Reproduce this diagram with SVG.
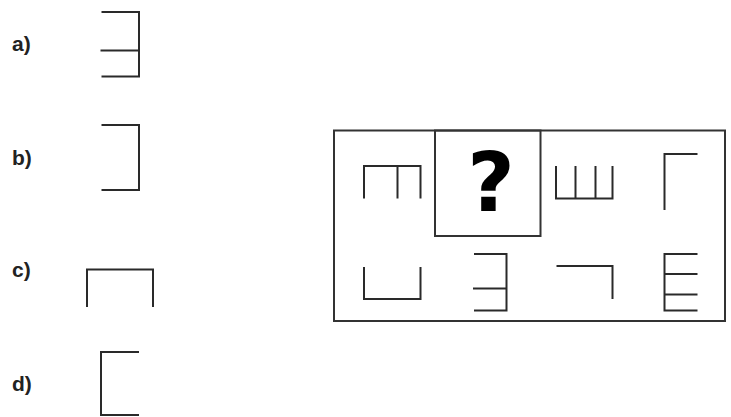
<svg xmlns="http://www.w3.org/2000/svg" width="731" height="417" viewBox="0 0 731 417">
<style>
.lbl{font-family:"Liberation Sans",Arial,sans-serif;font-weight:bold;font-size:21px;fill:#222}
.shp{fill:none;stroke:#2a2a2a;stroke-width:2;stroke-linecap:butt;stroke-linejoin:miter}
.box{fill:none;stroke:#333;stroke-width:2}
.q{font-family:"DejaVu Sans",sans-serif;font-weight:bold;font-size:82px;fill:#000}
</style>
<rect width="731" height="417" fill="#fff"/>
<g id="option-a">
<text class="lbl" x="12" y="51">a)</text>
<path class="shp" d="M101.5 12H139V76.5H101.5M100.5 50.5H139"/>
</g>
<g id="option-b">
<text class="lbl" x="12" y="165">b)</text>
<path class="shp" d="M101.5 125H139V190H101.5"/>
</g>
<g id="option-c">
<text class="lbl" x="12" y="277">c)</text>
<path class="shp" d="M87 307V269.5H153V307"/>
</g>
<g id="option-d">
<text class="lbl" x="12" y="391">d)</text>
<path class="shp" d="M139 352H101V415H139"/>
</g>
<g id="puzzle-frame">
<rect class="box" x="334" y="130.5" width="391" height="190.5"/>
</g>
<g id="cell-question">
<rect class="box" x="435" y="130.5" width="105.5" height="105.5"/>
<text class="q" x="491" y="211" text-anchor="middle">?</text>
</g>
<g id="cell-1">
<path class="shp" d="M364 198.5V166H420.5V198.5M397.5 166V198.5"/>
</g>
<g id="cell-3">
<path class="shp" d="M556 166V198.5H612.5V166M575.5 166V198.5M595.5 166V198.5"/>
</g>
<g id="cell-4">
<path class="shp" d="M664.5 210V154H697.5"/>
</g>
<g id="cell-5">
<path class="shp" d="M364 267V299H420.5V267"/>
</g>
<g id="cell-6">
<path class="shp" d="M474 254H506.5V310.5H474M473 288.5H506.5"/>
</g>
<g id="cell-7">
<path class="shp" d="M556.5 266H612.5V299"/>
</g>
<g id="cell-8">
<path class="shp" d="M697.5 254H664.5V310.5H697.5M664.5 274H697.5M664.5 294.5H697.5"/>
</g>
</svg>
